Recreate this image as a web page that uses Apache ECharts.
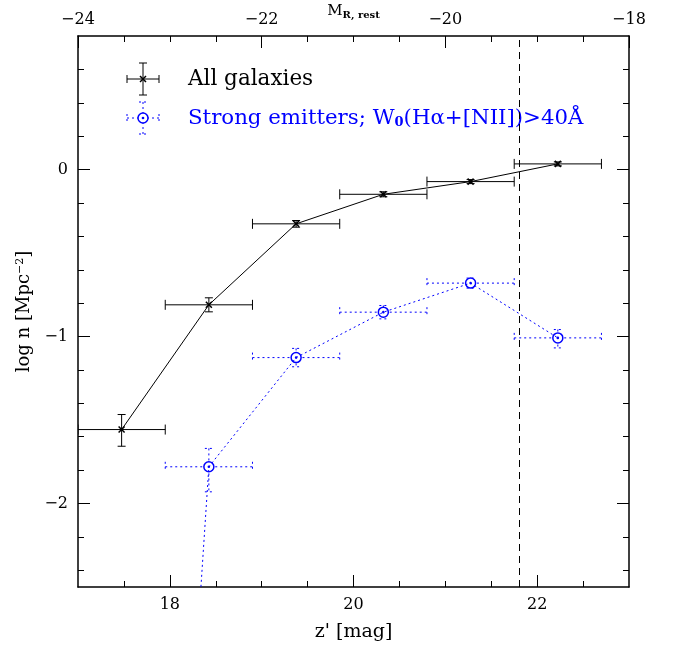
<!DOCTYPE html>
<html><head><meta charset="utf-8">
<script src="https://cdn.jsdelivr.net/npm/echarts@6/dist/echarts.min.js"></script>
<style>html,body{margin:0;padding:0;background:#fff}#c{width:673px;height:645px}</style>
</head><body><div id="c"></div>
<script>
// ---- data ----
const binCenter = [17.475, 18.425, 19.375, 20.325, 21.275, 22.225];
const binLo = [17.0, 17.95, 18.9, 19.85, 20.8, 21.75];
const binHi = [17.95, 18.9, 19.85, 20.8, 21.75, 22.7];
const allLogN = [-1.557, -0.81, -0.325, -0.148, -0.072, 0.034];
const allErrUp = [0.09, 0.042, 0.02, 0.015, 0.012, 0.012];
const allErrDown = [0.1, 0.042, 0.02, 0.015, 0.012, 0.012];
const strongLogN = [-9.7, -1.78, -1.126, -0.854, -0.68, -1.008];
const strongErrUp = [null, 0.11, 0.055, 0.04, 0.03, 0.05];
const strongErrDown = [null, 0.15, 0.055, 0.04, 0.03, 0.06];
const completenessLimit = 21.8;

// ---- ticks ----
const xMajorTicks = [18, 20, 22];
const xMinorTicks = [17.5, 18.5, 19, 19.5, 20.5, 21, 21.5, 22.5];
const yMajorTicks = [-2, -1, 0];
const yMinorTicks = [-2.4, -2.2, -1.8, -1.6, -1.4, -1.2, -0.8, -0.6, -0.4, -0.2, 0.2, 0.4, 0.6];

const FONT = 'DejaVu Serif';
const BLUE = '#0000ff';
const fmt = v => String(v).replace('-', '\u2212');

const lineBase = {show: true, onZero: false, lineStyle: {color: '#000', width: 1.5}};
const tickStyle = {color: '#000', width: 1};
const labelStyle = {fontFamily: FONT, fontSize: 16, color: '#000', formatter: fmt};

function errRender(color, dotted) {
  return function (params, api) {
    const y = api.value(1), eu = api.value(4), ed = api.value(5);
    if (isNaN(eu) || isNaN(ed)) return {type: 'group', children: []};
    const c = api.coord([api.value(0), y]);
    const l = api.coord([api.value(2), y]);
    const h = api.coord([api.value(3), y]);
    const t = api.coord([api.value(0), y + eu]);
    const b = api.coord([api.value(0), y - ed]);
    const st = {stroke: color, lineWidth: 1, lineDash: dotted ? [2, 3] : null, fill: null};
    const L = (x1, y1, x2, y2, s) => ({type: 'line', shape: {x1, y1, x2, y2}, style: s || st});
    const ch = [
      L(l[0], c[1], h[0], c[1]),
      L(l[0], c[1] - 5, l[0], c[1] + 5),
      L(h[0], c[1] - 5, h[0], c[1] + 5),
      L(c[0], t[1], c[0], b[1]),
      L(c[0] - 4, t[1], c[0] + 4, t[1]),
      L(c[0] - 4, b[1], c[0] + 4, b[1])
    ];
    if (dotted) {
      ch.push({type: 'circle', shape: {cx: c[0], cy: c[1], r: 5}, style: {stroke: color, lineWidth: 1.5, fill: '#fff'}});
      ch.push({type: 'circle', shape: {cx: c[0], cy: c[1], r: 1.3}, style: {fill: color}});
    } else {
      const s2 = {stroke: color, lineWidth: 1.5};
      ch.push(L(c[0] - 3, c[1] - 3, c[0] + 3, c[1] + 3, s2));
      ch.push(L(c[0] - 3, c[1] + 3, c[0] + 3, c[1] - 3, s2));
    }
    return {type: 'group', children: ch};
  };
}

function legendIcon(cx, cy, color, dotted) {
  const st = {stroke: color, lineWidth: 1, lineDash: dotted ? [2, 3] : null};
  const L = (x1, y1, x2, y2, s) => ({type: 'line', shape: {x1, y1, x2, y2}, style: s || st});
  const ch = [
    L(cx - 16, cy, cx + 16, cy), L(cx - 16, cy - 4, cx - 16, cy + 4), L(cx + 16, cy - 4, cx + 16, cy + 4),
    L(cx, cy - 16, cx, cy + 16), L(cx - 4, cy - 16, cx + 4, cy - 16), L(cx - 4, cy + 16, cx + 4, cy + 16)
  ];
  if (dotted) {
    ch.push({type: 'circle', shape: {cx, cy, r: 5}, style: {stroke: color, lineWidth: 1.5, fill: '#fff'}});
    ch.push({type: 'circle', shape: {cx, cy, r: 1.3}, style: {fill: color}});
  } else {
    const s2 = {stroke: color, lineWidth: 1.5};
    ch.push(L(cx - 3, cy - 3, cx + 3, cy + 3, s2), L(cx - 3, cy + 3, cx + 3, cy - 3, s2));
  }
  return ch;
}

const chart = echarts.init(document.getElementById('c'), null, {renderer: 'canvas'});
chart.setOption({
  animation: false,
  backgroundColor: '#fff',
  grid: {left: 78, right: 44, top: 36, bottom: 58, containLabel: false, outerBoundsMode: 'none'},
  xAxis: [
    {type: 'value', position: 'bottom', min: 17, max: 23, axisLine: lineBase,
      axisTick: {inside: true, length: 12, customValues: xMajorTicks, lineStyle: tickStyle},
      axisLabel: Object.assign({customValues: xMajorTicks, margin: 10}, labelStyle),
      splitLine: {show: false},
      name: "z' [mag]", nameLocation: 'middle', nameGap: 36, nameMoveOverlap: false,
      nameTextStyle: {fontFamily: FONT, fontSize: 19, color: '#000'}},
    {type: 'value', position: 'bottom', min: 17, max: 23, axisLine: {show: false, onZero: false},
      axisTick: {inside: true, length: 6, customValues: xMinorTicks, lineStyle: tickStyle},
      axisLabel: {show: false}, splitLine: {show: false}},
    {type: 'value', position: 'top', min: -24, max: -18, interval: 2, axisLine: lineBase,
      axisTick: {inside: true, length: 12, lineStyle: tickStyle},
      minorTick: {show: true, splitNumber: 4, length: 6, lineStyle: tickStyle},
      axisLabel: Object.assign({margin: 8}, labelStyle),
      splitLine: {show: false}, minorSplitLine: {show: false},
      name: '{m|M}{s|R, rest}', nameLocation: 'middle', nameGap: 16, nameMoveOverlap: false,
      nameTextStyle: {rich: {m: {fontFamily: FONT, fontSize: 15, color: '#000'},
        s: {fontFamily: FONT, fontSize: 10, fontWeight: 'bold', color: '#000', padding: [8, 0, 0, 0]}}}}
  ],
  yAxis: [
    {type: 'value', position: 'left', min: -2.5, max: 0.8, axisLine: lineBase,
      axisTick: {inside: true, length: 12, customValues: yMajorTicks, lineStyle: tickStyle},
      axisLabel: Object.assign({customValues: yMajorTicks, margin: 10}, labelStyle),
      splitLine: {show: false},
      name: 'log n [Mpc{sup|\u22122}]', nameLocation: 'middle', nameGap: 44, nameMoveOverlap: false,
      nameTextStyle: {fontFamily: FONT, fontSize: 18, color: '#000',
        rich: {sup: {fontFamily: FONT, fontSize: 11, color: '#000', padding: [0, 0, 8, 0]}}}},
    {type: 'value', position: 'left', min: -2.5, max: 0.8, axisLine: {show: false, onZero: false},
      axisTick: {inside: true, length: 6, customValues: yMinorTicks, lineStyle: tickStyle},
      axisLabel: {show: false}, splitLine: {show: false}},
    {type: 'value', position: 'right', min: -2.5, max: 0.8, axisLine: lineBase,
      axisTick: {inside: true, length: 12, customValues: yMajorTicks, lineStyle: tickStyle},
      axisLabel: {show: false}, splitLine: {show: false}},
    {type: 'value', position: 'right', min: -2.5, max: 0.8, axisLine: {show: false, onZero: false},
      axisTick: {inside: true, length: 6, customValues: yMinorTicks, lineStyle: tickStyle},
      axisLabel: {show: false}, splitLine: {show: false}}
  ],
  series: [
    {type: 'line', name: 'All galaxies', xAxisIndex: 0, yAxisIndex: 0, clip: true,
      data: binCenter.map((x, i) => [x, allLogN[i]]), showSymbol: false, symbol: 'none',
      lineStyle: {color: '#000', width: 1},
      markLine: {silent: true, symbol: 'none', label: {show: false},
        lineStyle: {color: '#000', width: 1, type: [7, 5]},
        data: [{xAxis: completenessLimit}]}},
    {type: 'line', name: 'Strong emitters', xAxisIndex: 0, yAxisIndex: 0, clip: true,
      data: binCenter.map((x, i) => [x, strongLogN[i]]), showSymbol: false, symbol: 'none',
      lineStyle: {color: BLUE, width: 1, type: [2, 3]}},
    {type: 'custom', xAxisIndex: 0, yAxisIndex: 0, clip: true,
      data: binCenter.map((x, i) => [x, allLogN[i], binLo[i], binHi[i], allErrUp[i], allErrDown[i]]),
      renderItem: errRender('#000', false)},
    {type: 'custom', xAxisIndex: 0, yAxisIndex: 0, clip: true,
      data: binCenter.map((x, i) => [x, strongLogN[i], binLo[i], binHi[i],
        strongErrUp[i] == null ? NaN : strongErrUp[i], strongErrDown[i] == null ? NaN : strongErrDown[i]]),
      renderItem: errRender(BLUE, true)}
  ],
  graphic: [
    {type: 'group', children: legendIcon(143, 79, '#000', false)},
    {type: 'group', children: legendIcon(143, 118, BLUE, true)},
    {type: 'text', x: 188, y: 79, style: {text: 'All galaxies', fontFamily: FONT, fontSize: 21.5,
      fill: '#000', verticalAlign: 'middle'}},
    {type: 'text', x: 188, y: 118, style: {text: 'Strong emitters; W{sub|0}(H\u03b1+[NII])>40\u00c5',
      fontFamily: FONT, fontSize: 21.3, fill: BLUE, verticalAlign: 'middle',
      rich: {sub: {fontFamily: FONT, fontSize: 13, fontWeight: 'bold', fill: BLUE, padding: [10, 0, 0, 0]}}}}
  ]
});
</script>
</body></html>
